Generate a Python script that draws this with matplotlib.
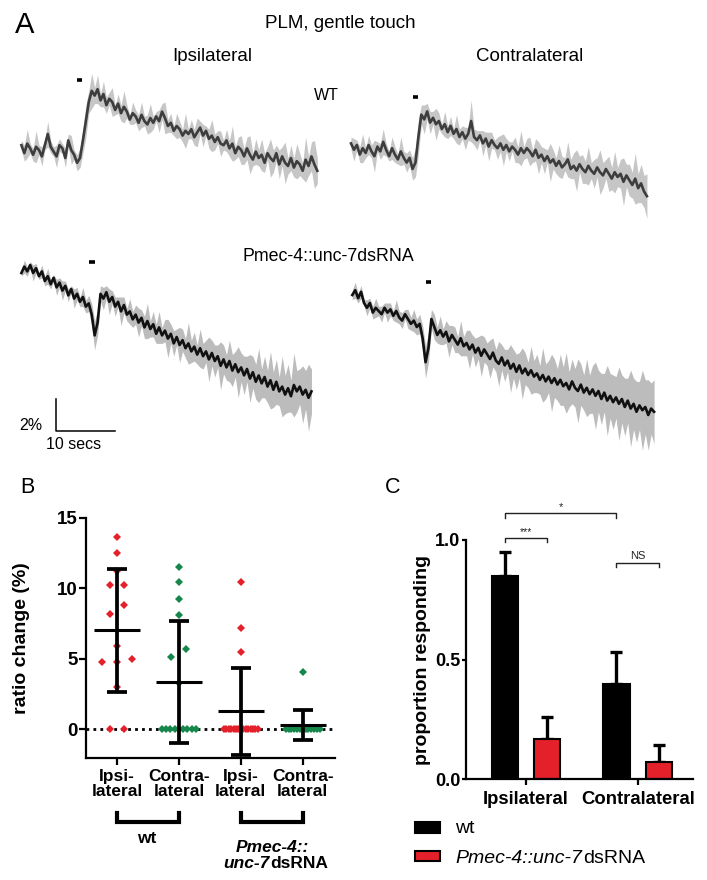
import numpy as np
import matplotlib
matplotlib.use("Agg")
import matplotlib.pyplot as plt
from matplotlib import transforms as mtrans
from matplotlib.patches import Rectangle

plt.rcParams['font.family'] = ['Liberation Sans', 'DejaVu Sans']

# ---------------------------------------------------------------- data
# Panel A: mean calcium traces (ratio change, %), sampled every 0.5 s
DT = 0.5
wt_ipsi_mean = [
    0.3, -0.2, 0.4, 0.1, -0.3, 0.2, 0.0, -0.4, 0.3, 1.0,
    0.2, -0.1, -0.4, 0.3, 0.1, -0.5, 0.6, 0.0, -0.3, -0.8,
    -0.5, 0.6, 1.8, 3.0, 3.7, 3.4, 3.8, 3.1, 3.5, 2.8,
    3.2, 3.0, 2.5, 2.9, 2.3, 2.7, 2.4, 1.9, 2.3, 2.1,
    1.7, 2.2, 1.8, 1.6, 2.0, 1.7, 2.1, 1.8, 2.4, 2.0,
    1.5, 1.7, 1.2, 1.5, 1.3, 0.9, 1.2, 1.0, 1.3, 0.8,
    1.1, 1.4, 0.9, 1.2, 0.7, 0.9, 0.5, 0.8, 0.4, 0.3,
    0.6, 0.1, 0.4, -0.2, 0.2, 0.0, -0.4, 0.1, -0.3, -0.6,
    -0.1, -0.5, -0.3, -0.8, -0.2, -0.5, -0.7, -0.2, -0.9, -0.4,
    -0.8, -1.0, -0.5, -1.1, -0.7, -0.9, -1.3, -0.6, -1.0, -0.4,
    -0.9, -1.3]
wt_ipsi_sem = [
    0.3, 0.5, 0.9, 0.3, 0.4, 1.0, 0.3, 0.6, 0.3, 0.8,
    0.4, 0.3, 0.7, 0.4, 0.3, 0.6, 0.4, 0.9, 0.3, 0.5,
    0.6, 0.8, 1.0, 0.7, 1.1, 0.5, 0.9, 0.4, 0.8, 0.5,
    0.4, 0.9, 0.3, 0.6, 0.5, 1.0, 0.4, 0.3, 0.7, 0.4,
    0.5, 0.8, 0.3, 0.6, 0.9, 0.4, 0.3, 0.7, 0.5, 1.0,
    0.4, 0.6, 0.3, 0.8, 0.5, 0.4, 1.1, 0.3, 0.6, 0.5,
    0.9, 0.4, 0.7, 0.3, 0.6, 1.0, 0.5, 0.4, 0.8, 0.3,
    0.7, 0.5, 1.1, 0.4, 0.6, 0.9, 0.5, 0.7, 1.2, 0.4,
    0.8, 0.5, 1.0, 0.6, 0.4, 1.2, 0.7, 0.5, 0.9, 0.6,
    1.3, 0.5, 0.8, 0.6, 1.1, 0.7, 0.5, 1.4, 0.6, 0.9,
    1.5, 0.8]
wt_contra_mean = [
    0.6, 0.2, 0.5, -0.1, 0.3, 0.0, 0.5, 0.1, -0.2, 0.4,
    0.1, 0.7, 0.2, -0.2, 0.3, -0.1, -0.4, 0.1, -0.3, -0.6,
    -0.3, -1.0, -0.6, 1.0, 2.4, 2.1, 2.6, 1.9, 2.2, 1.8,
    2.0, 1.5, 1.8, 1.3, 1.7, 1.2, 1.5, 1.0, 1.3, 0.9,
    1.2, 2.0, 1.0, 0.8, 1.1, 0.6, 0.9, 0.4, 0.8, 0.5,
    0.3, 0.6, 0.2, 0.5, 0.1, 0.4, 0.2, -0.1, 0.3, 0.0,
    0.3, 0.1, -0.2, 0.2, -0.3, -0.1, -0.5, -0.2, -0.6, -0.4,
    -0.8, -0.5, -0.9, -0.7, -0.4, -1.0, -0.8, -1.1, -0.7, -1.0,
    -1.2, -0.8, -1.1, -1.3, -0.9, -1.2, -1.4, -1.0, -1.3, -1.6,
    -1.2, -1.5, -1.3, -1.8, -1.4, -1.7, -2.0, -1.6, -2.2, -1.9,
    -2.4, -2.7]
wt_contra_sem = [
    0.4, 0.7, 0.3, 0.5, 0.9, 0.3, 0.6, 0.4, 1.0, 0.3,
    0.5, 0.8, 0.4, 0.3, 0.7, 0.5, 0.3, 0.9, 0.4, 0.6,
    0.5, 0.7, 0.9, 1.1, 0.6, 0.9, 0.5, 0.7, 0.4, 1.0,
    0.5, 0.3, 0.8, 0.4, 0.6, 0.3, 0.9, 0.5, 0.4, 0.7,
    0.4, 1.3, 0.5, 0.6, 0.3, 0.8, 0.4, 0.9, 0.5, 0.3,
    0.7, 0.5, 1.0, 0.4, 0.6, 0.3, 0.8, 0.5, 1.1, 0.4,
    0.6, 0.9, 0.4, 0.7, 1.0, 0.5, 0.8, 0.4, 1.2, 0.6,
    0.5, 1.0, 0.7, 0.4, 1.1, 0.6, 0.8, 1.3, 0.5, 0.9,
    0.7, 1.2, 0.5, 0.9, 0.6, 1.4, 0.8, 0.6, 1.1, 0.7,
    1.3, 0.6, 0.9, 1.5, 0.7, 1.0, 0.8, 1.6, 0.9, 1.2,
    1.0, 1.4]
ds_ipsi_mean = [
    0.0, 0.4, 0.1, 0.5, 0.0, 0.3, -0.2, 0.1, -0.5, -0.2,
    -0.7, -0.3, -0.9, -0.6, -1.1, -0.8, -1.4, -1.0, -1.6, -1.3,
    -1.8, -1.5, -2.1, -1.9, -2.6, -3.9, -3.1, -1.3, -1.6, -1.2,
    -1.8, -1.5, -2.1, -1.8, -2.4, -2.0, -2.6, -2.4, -2.9, -2.6,
    -3.1, -2.8, -3.4, -3.0, -3.5, -3.2, -3.8, -3.4, -3.9, -3.6,
    -4.1, -3.8, -4.4, -4.0, -4.5, -4.2, -4.7, -4.4, -4.9, -4.6,
    -5.1, -4.7, -5.2, -4.9, -5.4, -5.0, -5.5, -5.2, -5.8, -5.4,
    -5.9, -5.5, -6.1, -5.7, -6.2, -5.9, -6.4, -6.0, -6.6, -6.2,
    -6.8, -6.4, -6.9, -6.5, -7.1, -6.7, -7.3, -6.8, -7.4, -7.1,
    -7.6, -7.2, -7.7, -7.0, -7.4, -7.1, -7.6, -7.3, -7.8, -7.4]
ds_ipsi_sem = [
    0.2, 0.4, 0.3, 0.2, 0.5, 0.3, 0.2, 0.4, 0.3, 0.5,
    0.3, 0.2, 0.5, 0.3, 0.6, 0.3, 0.4, 0.2, 0.6, 0.4,
    0.3, 0.6, 0.4, 0.5, 0.7, 0.9, 0.8, 0.5, 0.7, 0.4,
    0.8, 0.4, 0.6, 0.3, 0.9, 0.5, 0.4, 0.8, 0.5, 0.6,
    0.9, 0.5, 0.7, 1.1, 0.5, 0.8, 0.6, 1.0, 0.5, 0.7,
    1.2, 0.6, 0.8, 0.5, 1.1, 0.7, 0.6, 1.3, 0.7, 0.9,
    0.6, 1.2, 0.8, 0.7, 1.4, 0.8, 1.0, 0.7, 1.5, 0.9,
    0.8, 1.3, 1.0, 0.8, 1.6, 0.9, 1.2, 0.8, 1.5, 1.0,
    1.1, 1.7, 0.9, 1.3, 1.0, 1.8, 1.1, 1.4, 0.9, 1.9,
    1.2, 1.5, 1.0, 2.0, 1.3, 1.1, 1.8, 1.2, 2.1, 1.4]
ds_contra_mean = [
    0.0, 0.3, -0.2, 0.2, -0.5, -0.8, -0.5, -1.1, -0.8, -1.0,
    -1.2, -0.8, -1.1, -0.9, -1.3, -1.0, -1.4, -1.6, -1.2, -1.5,
    -1.8, -1.6, -2.0, -1.8, -2.7, -4.2, -3.3, -1.5, -2.0, -2.5,
    -2.2, -2.6, -2.3, -2.9, -2.5, -2.8, -3.1, -2.7, -3.2, -3.0,
    -3.4, -3.1, -3.6, -3.3, -3.8, -3.4, -3.7, -4.0, -3.6, -4.1,
    -4.3, -3.9, -4.4, -4.1, -4.6, -4.3, -4.8, -4.4, -4.9, -4.6,
    -5.0, -4.7, -5.1, -4.9, -5.3, -5.0, -5.4, -5.1, -5.5, -5.2,
    -5.6, -5.3, -5.7, -5.5, -5.9, -5.4, -5.8, -6.0, -5.6, -6.1,
    -5.8, -6.2, -5.9, -6.3, -6.0, -6.5, -6.1, -6.6, -6.3, -6.7,
    -6.4, -6.8, -6.5, -7.0, -6.6, -7.1, -6.8, -7.3, -6.9, -7.2,
    -7.0, -7.5, -7.1, -7.3]
ds_contra_sem = [
    0.3, 0.5, 0.3, 0.4, 0.2, 0.5, 0.3, 0.4, 0.6, 0.3,
    0.5, 0.3, 0.6, 0.4, 0.3, 0.7, 0.4, 0.5, 0.3, 0.6,
    0.4, 0.7, 0.5, 0.6, 0.8, 1.0, 0.9, 0.6, 0.8, 0.5,
    0.9, 0.5, 0.7, 1.0, 0.6, 0.8, 0.5, 1.1, 0.6, 0.8,
    1.2, 0.6, 0.9, 0.7, 1.3, 0.8, 0.7, 1.2, 0.9, 0.7,
    1.4, 0.8, 1.0, 0.7, 1.5, 0.9, 1.1, 0.8, 1.6, 1.0,
    0.8, 1.5, 1.0, 1.2, 0.9, 1.7, 1.1, 1.0, 1.8, 1.2,
    1.0, 1.6, 1.2, 1.9, 1.1, 1.4, 1.2, 2.0, 1.3, 1.1,
    1.8, 1.2, 1.5, 2.1, 1.3, 1.6, 1.2, 2.2, 1.4, 1.7,
    1.3, 2.3, 1.5, 1.8, 1.4, 2.4, 1.6, 1.9, 1.5, 2.5,
    1.7, 2.2, 1.6, 2.0]
stim_times = [9.5, 10.5, 11.6, 12.6]          # s after trace start

# Panel B: individual ratio changes (%)
b_categories = ['Ipsi-\nlateral', 'Contra-\nlateral', 'Ipsi-\nlateral', 'Contra-\nlateral']
b_wt_ipsi = [13.6, 12.5, 11.2, 10.2, 10.2, 8.8, 8.2, 5.9, 5.0, 4.8, 4.75, 3.0, 0, 0]
b_wt_contra = [11.5, 10.45, 9.2, 8.1, 5.7, 5.15, 3.3, 0, 0, 0, 0, 0, 0, 0, 0, 0]
b_ds_ipsi = [10.45, 7.15, 5.45, 0, 0, 0, 0, 0, 0, 0, 0, 0, 0, 0, 0, 0, 0, 0]
b_ds_contra = [4.05, 0, 0, 0, 0, 0, 0, 0, 0, 0, 0, 0, 0, 0]
b_yticks = [0, 5, 10, 15]

# Panel C: proportion responding
c_categories = ['Ipsilateral', 'Contralateral']
c_wt = [0.85, 0.40]
c_wt_err = [0.10, 0.13]
c_ds = [0.167, 0.071]
c_ds_err = [0.092, 0.074]
c_yticks = [0.0, 0.5, 1.0]

# ---------------------------------------------------------------- helpers
W, H = 707, 880
fig = plt.figure(figsize=(W / 100, H / 100), dpi=100)


def fx(x):
    return x / W


def fy(y):
    return 1 - y / H


def rich_text(x, y, pieces, ha='center', size=12, gap_px=1.0):
    """Draw consecutive text pieces with different styles on one baseline."""
    r = fig.canvas.get_renderer()
    texts = [fig.text(x, y, s, fontsize=size, va='baseline', ha='left', **st)
             for s, st in pieces]
    widths = [t.get_window_extent(r).width for t in texts]
    total = sum(widths) + gap_px * (len(widths) - 1)
    cum = -total / 2 if ha == 'center' else 0.0
    for t, w in zip(texts, widths):
        t.set_transform(fig.transFigure +
                        mtrans.ScaledTranslation(cum / fig.dpi, 0, fig.dpi_scale_trans))
        cum += w + gap_px


# ---------------------------------------------------------------- panel A
PX_S, PX_PCT = 5.86, 16.0   # pixels per second, pixels per percent
axA = fig.add_axes([0, fy(470), 1, 470 / H])
axA.set_xlim(0, W / PX_S)
axA.set_ylim(-470 / PX_PCT, 0)
axA.axis('off')

traces = [
    (wt_ipsi_mean, wt_ipsi_sem, 21.4, 150, 4.4, '#3d3d3d', '#c6c6c6'),
    (wt_contra_mean, wt_contra_sem, 351, 153, 3.5, '#3d3d3d', '#c6c6c6'),
    (ds_ipsi_mean, ds_ipsi_sem, 21.4, 273, 0.7, '#111111', '#bcbcbc'),
    (ds_contra_mean, ds_contra_sem, 352.3, 295, 0.8, '#111111', '#bcbcbc'),
]
for (mean, sem, x0, y0, sh, lc, fc), st in zip(traces, stim_times):
    mean = np.asarray(mean)
    sem = np.asarray(sem)
    t0 = x0 / PX_S
    base = -y0 / PX_PCT
    t = t0 + DT * np.arange(len(mean))
    axA.fill_between(t, base + mean - sem, base + mean + sem, color=fc, lw=0)
    axA.plot(t, base + mean, color=lc, lw=1.9)
    axA.plot([t0 + st, t0 + st + 0.9], [base + sh, base + sh], color='black',
             lw=2.6, solid_capstyle='butt')

# scale bar: 2 % and 10 s
sx, sy = 56 / PX_S, -431 / PX_PCT
axA.plot([sx, sx, sx + 10], [sy + 2, sy, sy], color='black', lw=1.1)

fig.text(fx(15), fy(33), 'A', fontsize=21, va='baseline', ha='left')
fig.text(fx(340), fy(28.3), 'PLM, gentle touch', fontsize=13.5,
         ha='center', va='baseline')
fig.text(fx(212), fy(61), 'Ipsilateral', fontsize=13.5, ha='center', va='baseline')
fig.text(fx(529.5), fy(61), 'Contralateral', fontsize=13.5, ha='center', va='baseline')
fig.text(fx(326), fy(100), 'WT', fontsize=11.5, ha='center', va='baseline')
fig.text(fx(328), fy(260.7), 'Pmec-4::unc-7dsRNA', fontsize=12.8,
         ha='center', va='baseline')
fig.text(fx(42), fy(430), '2%', fontsize=11.5, ha='right', va='baseline')
fig.text(fx(45.5), fy(449.3), '10 secs', fontsize=11.5, ha='left', va='baseline')

# ---------------------------------------------------------------- panel B
RED = '#e4212b'
GREEN = '#16874a'


def swarm_offsets(vals, thresh=0.75, step=0.24, maxw=0.55):
    vals = np.asarray(vals, float)
    order = np.argsort(vals, kind='stable')
    offs = np.zeros(len(vals))
    groups, cur = [], [order[0]]
    for a, b in zip(order[:-1], order[1:]):
        if vals[b] - vals[a] < thresh:
            cur.append(b)
        else:
            groups.append(cur)
            cur = [b]
    groups.append(cur)
    for g in groups:
        m = len(g)
        if m > 1:
            w = min(step * (m - 1), maxw)
            offs[g] = np.linspace(-w / 2, w / 2, m)
    return offs


axB = fig.add_axes([fx(86), fy(758.3), (335 - 86) / W, (758.3 - 517.7) / H])
axB.set_xlim(-0.5, 3.52)
axB.set_ylim(-2.06, 15)
axB.axhline(0, color='black', lw=2.0, ls=(0, (1, 1.5)), zorder=1)
groups_b = [b_wt_ipsi, b_wt_contra, b_ds_ipsi, b_ds_contra]
colors_b = [RED, GREEN, RED, GREEN]
for i, (vals, col) in enumerate(zip(groups_b, colors_b)):
    vals = np.asarray(vals, float)
    axB.plot(i + swarm_offsets(vals), vals, 'D', ms=4.4, color=col, mew=0, zorder=2)
    m, sd = vals.mean(), vals.std(ddof=1)
    axB.errorbar([i], [m], yerr=[sd], fmt='none', ecolor='black', elinewidth=2.7,
                 capsize=7.2, capthick=2.7, zorder=3, clip_on=False)
    axB.hlines(m, i - 0.37, i + 0.37, color='black', lw=2.2, zorder=3)

for s in ('top', 'right'):
    axB.spines[s].set_visible(False)
for s in ('left', 'bottom'):
    axB.spines[s].set_linewidth(1.6)
axB.set_yticks(b_yticks)
axB.set_yticklabels([str(v) for v in b_yticks], fontsize=13.5, fontweight='bold')
axB.set_xticks(range(len(b_categories)))
axB.set_xticklabels(b_categories, fontsize=12.5, fontweight='bold', linespacing=1.0)
axB.tick_params(axis='both', length=5, width=1.6, color='black')
axB.tick_params(axis='y', pad=1)
axB.tick_params(axis='x', pad=3)
axB.set_ylabel('ratio change (%)', fontsize=14, fontweight='bold', va='center')
axB.yaxis.set_label_coords(-0.259, 0.5)

# group brackets under B
tb = mtrans.blended_transform_factory(axB.transData, axB.transAxes)
for a, b in [(0, 1), (2, 3)]:
    axB.plot([a, a, b, b], [-0.227, -0.265, -0.265, -0.227], color='black', lw=3,
             transform=tb, clip_on=False, solid_joinstyle='miter')
fig.text(fx(147), fy(842.7), 'wt', fontsize=12.5, fontweight='bold', ha='center',
         va='baseline')
fig.text(fx(272), fy(851.7), 'Pmec-4::', fontsize=12.5, fontweight='bold',
         style='italic', ha='center', va='baseline')
rich_text(fx(276), fy(868.3), [('unc-7', dict(fontweight='bold', style='italic')),
                               ('dsRNA', dict(fontweight='bold'))], size=12.5)
fig.text(fx(20), fy(493.3), 'B', fontsize=15.5, va='baseline', ha='left')

# ---------------------------------------------------------------- panel C
axC = fig.add_axes([fx(466), fy(779.3), (693 - 466) / W, (779.3 - 540) / H])
axC.set_xlim(-0.537, 1.495)
axC.set_ylim(0, 1.0)
xc = np.arange(len(c_categories))
off, bw = 0.19, 0.237
axC.bar(xc - off, c_wt, bw, color='black', edgecolor='black', lw=1.5, zorder=2)
axC.bar(xc + off, c_ds, bw, color=RED, edgecolor='black', lw=1.5, zorder=2)
axC.errorbar(xc - off, c_wt, yerr=[np.zeros(len(c_wt)), c_wt_err], fmt='none',
             ecolor='black', elinewidth=2.4, capsize=4.6, capthick=2.4, zorder=1)
axC.errorbar(xc + off, c_ds, yerr=[np.zeros(len(c_ds)), c_ds_err], fmt='none',
             ecolor='black', elinewidth=2.4, capsize=4.6, capthick=2.4, zorder=1)
for s in ('top', 'right'):
    axC.spines[s].set_visible(False)
for s in ('left', 'bottom'):
    axC.spines[s].set_linewidth(1.6)
axC.set_yticks(c_yticks)
axC.set_yticklabels([f'{v:.1f}' for v in c_yticks], fontsize=13, fontweight='bold')
axC.set_xticks(xc)
axC.set_xticklabels(c_categories, fontsize=13.3, fontweight='bold')
axC.tick_params(axis='y', length=3.2, width=1.6, pad=1)
axC.tick_params(axis='x', length=4, width=1.6, pad=4.5)
axC.set_ylabel('proportion responding', fontsize=14, fontweight='bold', va='center')
axC.yaxis.set_label_coords(-0.192, 0.5)


def sig_bracket(x1, x2, y, label, size):
    axC.plot([x1, x1, x2, x2], [y - 0.017, y, y, y - 0.017], color='#222222',
             lw=1.0, clip_on=False)
    axC.text((x1 + x2) / 2, y + 0.006, label, ha='center', va='bottom',
             fontsize=size, color='#222222', clip_on=False)


sig_bracket(xc[0] - off, xc[1] - off, 1.111, '*', 8)
sig_bracket(xc[0] - off, xc[0] + off, 1.007, '***', 7.5)
sig_bracket(xc[1] - off, xc[1] + off, 0.905, 'NS', 8)

# legend
fig.patches.append(Rectangle((fx(415), fy(833)), 25 / W, 11 / H, transform=fig.transFigure,
                             facecolor='black', edgecolor='black', lw=1.5))
fig.patches.append(Rectangle((fx(415), fy(861)), 25 / W, 10 / H, transform=fig.transFigure,
                             facecolor=RED, edgecolor='black', lw=1.5))
fig.text(fx(455), fy(833.3), 'wt', fontsize=14, va='baseline', ha='left')
rich_text(fx(455), fy(863.3), [('Pmec-4::unc-7', dict(style='italic')),
                               ('dsRNA', dict())], ha='left', size=14)
fig.text(fx(385), fy(492.7), 'C', fontsize=15.5, va='baseline', ha='left')

fig.savefig('out.png', dpi=100)
